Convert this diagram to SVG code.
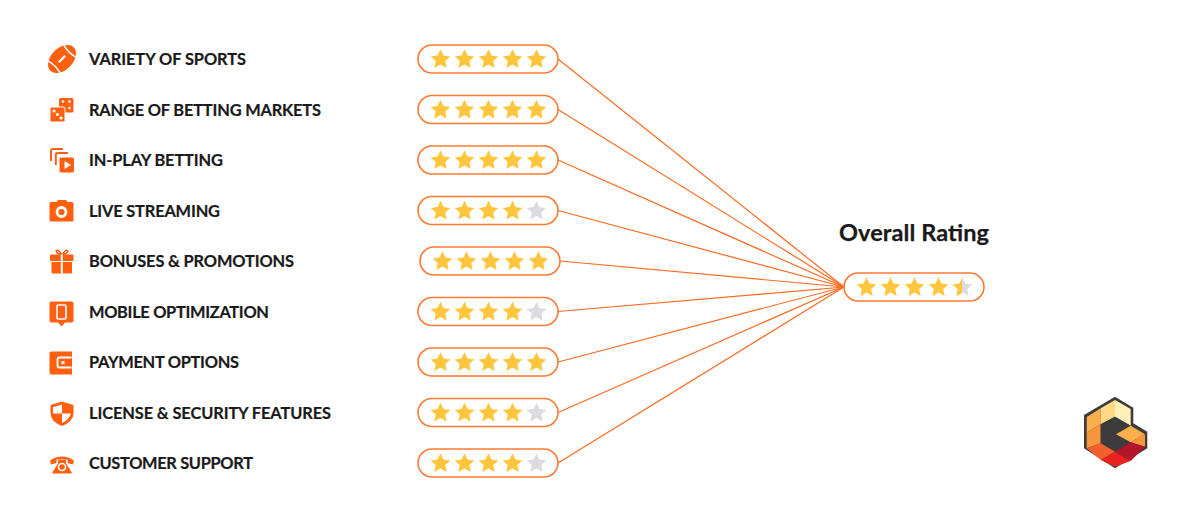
<svg xmlns="http://www.w3.org/2000/svg" width="1200" height="514" viewBox="0 0 1200 514">
<style>
.lbl{font-family:"Lato","Noto Sans",sans-serif;font-weight:700;font-size:16.4px;fill:#1a1a1a;stroke:#1a1a1a;stroke-width:.2px}
.ttl{font-family:"Lato","Noto Sans",sans-serif;font-weight:700;font-size:23.5px;fill:#1a1a1a;stroke:#1a1a1a;stroke-width:.25px}
.pill{fill:#fff;stroke:#ff7a33;stroke-width:1.6}
.con{stroke:#ff6a1f;stroke-width:1.2;fill:none}
.ic{fill:#ff5f0f}
.w{fill:#fff}
.on{fill:#ffc63d}
.off{fill:#dcdce0}
</style>
<defs>
<path id="s" d="M0-9.800 3-3.400 9.800-2.600 4.800 2.100 6.100 9 0 5.600-6.100 9-4.800 2.100-9.800-2.600-3-3.400Z"/>
<clipPath id="half"><rect x="-10" y="-10" width="9.500" height="20"/></clipPath>
<g id="five"><use href="#s" x="22.500" class="on"/><use href="#s" x="46.500" class="on"/><use href="#s" x="70.500" class="on"/><use href="#s" x="94.500" class="on"/><use href="#s" x="118.500" class="on"/></g>
<g id="four"><use href="#s" x="22.500" class="on"/><use href="#s" x="46.500" class="on"/><use href="#s" x="70.500" class="on"/><use href="#s" x="94.500" class="on"/><use href="#s" x="118.500" class="off"/></g>
</defs>
<rect width="1200" height="514" fill="#fff"/>
<g id="connectors">
<line class="con" x1="558" y1="59" x2="844" y2="287"/>
<line class="con" x1="558" y1="109.500" x2="844" y2="287"/>
<line class="con" x1="558" y1="160" x2="844" y2="287"/>
<line class="con" x1="558" y1="210.500" x2="844" y2="287"/>
<line class="con" x1="560" y1="261" x2="844" y2="287"/>
<line class="con" x1="558" y1="311.500" x2="844" y2="287"/>
<line class="con" x1="558" y1="362" x2="844" y2="287"/>
<line class="con" x1="558" y1="412.500" x2="844" y2="287"/>
<line class="con" x1="558" y1="463" x2="844" y2="287"/>
</g>
<g id="row-1">
<g transform="translate(62 59) rotate(-45)"><ellipse class="ic" cx="0" cy="0" rx="16.500" ry="10.800"/><path d="M-11.500-10Q-8.500 0-11.500 10M11.500-10Q8.500 0 11.500 10" fill="none" stroke="#fff" stroke-width="1.500"/><path d="M-4.500 0H4.500" stroke="#fff" stroke-width="2.200"/></g>
<text class="lbl" x="89" y="65" textLength="157">VARIETY OF SPORTS</text>
<rect class="pill" x="418" y="45" width="140" height="28" rx="14"/><use href="#five" x="418" y="59"/>
</g>
<g id="row-2">
<g transform="translate(50 98)"><rect class="ic" x="9" y="0" width="14.500" height="14.500" rx="1.500"/><rect class="ic" x="0" y="9" width="15" height="15" rx="1.500" stroke="#fff" stroke-width="1"/><circle class="w" cx="4" cy="13" r="1.600"/><circle class="w" cx="7.500" cy="16.500" r="1.600"/><circle class="w" cx="11" cy="20" r="1.600"/><circle class="w" cx="13" cy="3.500" r="1.300"/><circle class="w" cx="19.500" cy="3.500" r="1.300"/><circle class="w" cx="19.500" cy="10" r="1.300"/></g>
<text class="lbl" x="89" y="115.500" textLength="232">RANGE OF BETTING MARKETS</text>
<rect class="pill" x="418" y="95.500" width="140" height="28" rx="14"/><use href="#five" x="418" y="109.500"/>
</g>
<g id="row-3">
<g transform="translate(50 148)"><path d="M1 13V3Q1 1 3 1H13M5.800 17V7Q5.800 5 7.800 5H18" fill="none" stroke="#ff5f0f" stroke-width="2"/><rect class="ic" x="9.500" y="9.500" width="14.500" height="15" rx="1.500"/><path class="w" d="M14.500 13 21 17 14.500 21Z"/></g>
<text class="lbl" x="89" y="166" textLength="134">IN-PLAY BETTING</text>
<rect class="pill" x="418" y="146" width="140" height="28" rx="14"/><use href="#five" x="418" y="160"/>
</g>
<g id="row-4">
<g transform="translate(49.500 200)"><path class="ic" d="M1.500 2H7L8.500 0H16.500L18 2H22.500Q24 2 24 3.500V20Q24 21.500 22.500 21.500H1.500Q0 21.500 0 20V3.500Q0 2 1.500 2Z"/><circle cx="12" cy="12" r="4.500" fill="none" stroke="#fff" stroke-width="2.800"/></g>
<text class="lbl" x="89" y="216.500" textLength="131">LIVE STREAMING</text>
<rect class="pill" x="418" y="196.500" width="140" height="28" rx="14"/><use href="#four" x="418" y="210.500"/>
</g>
<g id="row-5">
<g transform="translate(50 249.500)"><path d="M8 4Q5 1.500 7 .8 9 .5 11.500 5ZM16 4Q19 1.500 17 .8 15 .5 12.500 5Z" fill="none" stroke="#ff5f0f" stroke-width="1.500"/><rect class="ic" x="0" y="5" width="23.500" height="6.500" rx="1"/><path class="ic" d="M1.500 12.500H22V23Q22 24 21 24H2.500Q1.500 24 1.500 23Z"/><rect class="w" x="10.800" y="5" width="2" height="19"/></g>
<text class="lbl" x="89" y="267" textLength="205">BONUSES &amp; PROMOTIONS</text>
<rect class="pill" x="420" y="247" width="140" height="28" rx="14"/><use href="#five" x="420" y="261"/>
</g>
<g id="row-6">
<g transform="translate(49.500 301.500)"><path class="ic" d="M2 0H22Q24 0 24 2V19Q24 21 22 21H15.500L12 25 8.500 21H2Q0 21 0 19V2Q0 0 2 0Z"/><rect x="7.500" y="3.500" width="9" height="14" rx="1.200" fill="none" stroke="#fff" stroke-width="1.600"/></g>
<text class="lbl" x="89" y="317.500" textLength="180">MOBILE OPTIMIZATION</text>
<rect class="pill" x="418" y="297.500" width="140" height="28" rx="14"/><use href="#four" x="418" y="311.500"/>
</g>
<g id="row-7">
<g transform="translate(49.500 351.500)"><path class="ic" d="M2 0H22.500V23H2Q0 23 0 21V2Q0 0 2 0Z"/><path d="M22 6H10Q8 6 8 8V14Q8 16 10 16H22" fill="none" stroke="#fff" stroke-width="1.800"/><rect class="w" x="12" y="9.600" width="3" height="3"/></g>
<text class="lbl" x="89" y="368" textLength="150">PAYMENT OPTIONS</text>
<rect class="pill" x="418" y="348" width="140" height="28" rx="14"/><use href="#five" x="418" y="362"/>
</g>
<g id="row-8">
<g transform="translate(50 401.500)"><path class="ic" d="M12 0 23.500 3.500V11.500Q23.500 20 12 24.500 .5 20 .5 11.500V3.500Z"/><path class="w" d="M12 3 3 5.800V12H12ZM12 12V21.500Q19.500 18 20.800 12Z"/></g>
<text class="lbl" x="89" y="418.500" textLength="242">LICENSE &amp; SECURITY FEATURES</text>
<rect class="pill" x="418" y="398.500" width="140" height="28" rx="14"/><use href="#four" x="418" y="412.500"/>
</g>
<g id="row-9">
<g transform="translate(50 455)"><path class="ic" d="M0 5.500Q12-2.500 24 5.500L23 9.500 17.500 8V4.500H6.500V8L1 9.500Z"/><path class="ic" d="M8 5H16V8.500L21.500 17V18.500H2.500V17L8 8.500Z"/><circle cx="12" cy="12" r="3.500" fill="none" stroke="#fff" stroke-width="1.500"/></g>
<text class="lbl" x="89" y="469" textLength="164">CUSTOMER SUPPORT</text>
<rect class="pill" x="418" y="449" width="140" height="28" rx="14"/><use href="#four" x="418" y="463"/>
</g>
<g id="overall">
<text class="ttl" x="839" y="241" textLength="150">Overall Rating</text>
<rect class="pill" x="844" y="273" width="140" height="28" rx="14"/>
<g transform="translate(844 287)"><use href="#s" x="22.500" class="on"/><use href="#s" x="46.500" class="on"/><use href="#s" x="70.500" class="on"/><use href="#s" x="94.500" class="on"/><use href="#s" x="118.500" class="off"/><g transform="translate(118.500 0)"><use href="#s" class="on" clip-path="url(#half)"/></g></g>
</g>
<g id="logo">
<path fill="#3c3c3c" d="M1115 396.700 1133.300 407.700V423.300L1147.300 431.700V448.300L1115 468.300 1084 448.300V415Z"/>
<path fill="#f9b04a" d="M1100.700 408.300V424.300L1086.700 432.500V417Z"/>
<path fill="#fdd985" d="M1115 400V416.700L1100.700 424.300V408.300Z"/>
<path fill="#fdf0b8" d="M1115 400 1130.700 409V425.700L1115 416.700Z"/>
<path fill="#f7963c" d="M1086.700 432.500 1100.700 424.300V443.300L1086.700 448.300Z"/>
<path fill="#3c3c3c" d="M1100.700 424.300 1115 416.700 1130.700 425.700 1116 434.300 1130 442.300 1115 451.700 1100.700 443.300Z"/>
<path fill="#f9b04a" d="M1116 434.300 1130.700 425.700 1145 434.300 1130.700 442.300Z"/>
<path fill="#f7963c" d="M1130.700 442.300 1145 434.300V446.700Z"/>
<path fill="#f4602c" d="M1086.700 448.300 1100.700 443.300 1115 451.700 1100.700 460Z"/>
<path fill="#e8221c" d="M1100.700 460 1115 451.700 1130.700 461 1115 466.700Z"/>
<path fill="#b5152b" d="M1115 451.700 1130.700 442.300 1145 446.700 1130.700 461Z"/>
</g>
</svg>
